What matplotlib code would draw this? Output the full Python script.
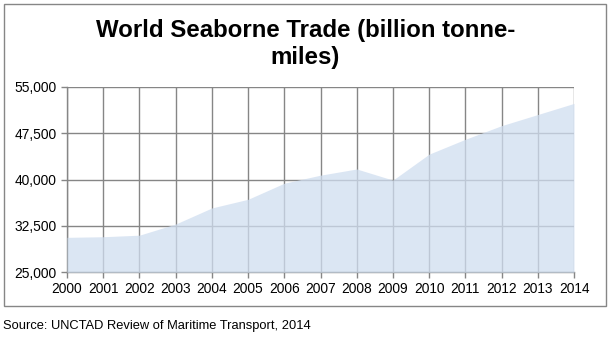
import matplotlib
matplotlib.use("Agg")
import matplotlib.pyplot as plt
from matplotlib.patches import Rectangle
from matplotlib.ticker import FuncFormatter

plt.rcParams['font.family'] = ['Liberation Sans', 'DejaVu Sans']

years = list(range(2000, 2015))
values = [30650, 30750, 31000, 32800, 35400, 36800, 39400, 40700,
          41700, 39900, 44100, 46500, 48700, 50500, 52300]
yticks = [25000, 32500, 40000, 47500, 55000]

fig = plt.figure(figsize=(6.11, 3.42), dpi=100)
ax = fig.add_axes([67/611, 1-272.3/342, (574-67)/611, (272.3-86.7)/342])

ax.fill_between(years, values, 25000, color='#d0def0', alpha=0.75, lw=0, zorder=3)
ax.set_xlim(2000, 2014)
ax.set_ylim(25000, 55000)
ax.set_xticks(years)
ax.set_yticks(yticks)
ax.yaxis.set_major_formatter(FuncFormatter(lambda v, p: f"{int(v):,}"))
ax.grid(True, color='#868686', lw=1, zorder=1)
ax.set_axisbelow(True)
for s in ['top', 'right']:
    ax.spines[s].set_visible(False)
for s in ['left', 'bottom']:
    ax.spines[s].set_color('#868686')
    ax.spines[s].set_linewidth(1)
ax.tick_params(axis='both', colors='#868686', labelcolor='black', length=4, width=1,
               labelsize=9.9, direction='out')
ax.tick_params(axis='x', pad=3)

fig.text(0.5, 1-44/342, "World Seaborne Trade (billion tonne-\nmiles)", ha='center', va='center',
         fontsize=17.3, fontweight='bold', linespacing=1.25)

fig.patches.append(Rectangle((3.5/611, 1-305.5/342), 602.5/611, 302/342, transform=fig.transFigure,
                             fill=False, edgecolor='#868686', lw=1))

fig.text(3/611, 1-326/342, "Source: UNCTAD Review of Maritime Transport, 2014", ha='left', va='center',
         fontsize=9.3)

fig.savefig('out.png', dpi=100)
